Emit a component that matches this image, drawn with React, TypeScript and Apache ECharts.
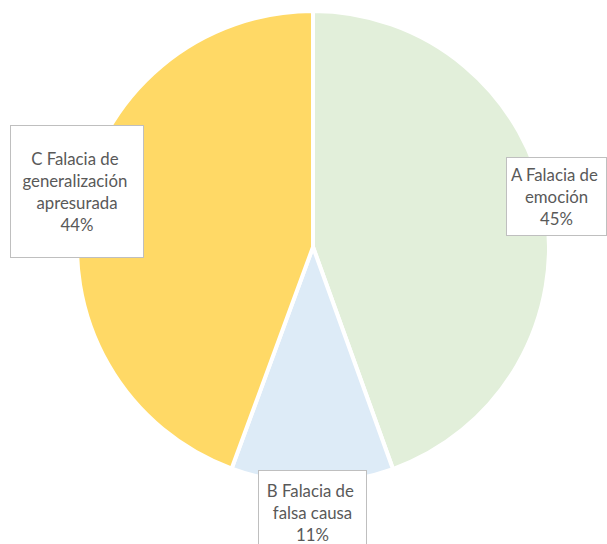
import React, { useEffect, useRef } from "react";
import * as echarts from "echarts";

const categories = [
  "A Falacia de emoción",
  "B Falacia de falsa causa",
  "C Falacia de generalización apresurada",
];
const values = [44.5, 11.1, 44.4];
const colors = ["#E2EFDA", "#DDEBF7", "#FFD966"];

// label box layout (centre x, centre y, content width, padding)
const labelBoxes = [
  { x: 556.5, y: 196.5, w: 95, pad: [5.5, 2] },
  { x: 312.5, y: 512, w: 103, pad: [8, 2] },
  { x: 77, y: 191.5, w: 122, pad: [21.5, 5] },
];

export default function App() {
  const ref = useRef<HTMLDivElement>(null);
  useEffect(() => {
    document.body.style.margin = "0";
    const chart = echarts.init(ref.current!, null, { renderer: "svg" });
    chart.setOption({
      animation: false,
      backgroundColor: "#ffffff",
      series: [
        {
          type: "pie",
          center: [313, 247],
          radius: 236,
          startAngle: 90,
          clockwise: true,
          percentPrecision: 0,
          data: categories.map((name, i) => ({
            name,
            value: values[i],
            itemStyle: { color: colors[i] },
            label: {
              width: labelBoxes[i].w,
              padding: labelBoxes[i].pad,
            },
          })),
          itemStyle: { borderColor: "#ffffff", borderWidth: 4 },
          label: {
            show: true,
            position: "outside",
            formatter: "{b}\n{d}%",
            fontFamily: "Lato, 'Open Sans', sans-serif",
            fontSize: 16.8,
            lineHeight: 22,
            color: "#595959",
            backgroundColor: "#ffffff",
            borderColor: "#BFBFBF",
            borderWidth: 1,
            overflow: "break",
            align: "center",
          },
          labelLine: { show: false },
          labelLayout: (params: any) => {
            const b = labelBoxes[params.dataIndex];
            return { x: b.x, y: b.y, align: "center", verticalAlign: "middle" };
          },
          emphasis: { disabled: true },
        },
      ],
    });
    return () => chart.dispose();
  }, []);
  return (
    <div
      ref={ref}
      style={{ position: "absolute", left: 0, top: 0, width: 607, height: 544 }}
    />
  );
}
